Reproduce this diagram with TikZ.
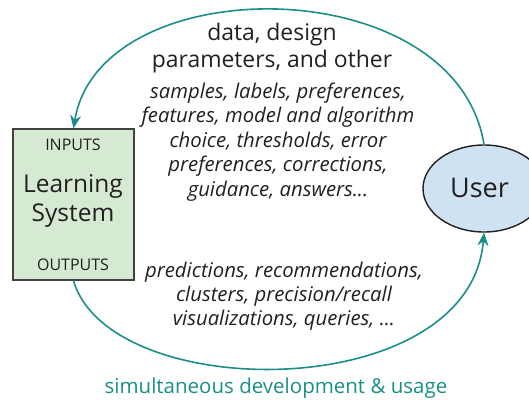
\documentclass[tikz,border=0pt]{standalone}
\usepackage{fontspec}
\setmainfont{Open Sans}
\usetikzlibrary{arrows.meta,shapes.geometric}
\definecolor{teal1}{HTML}{1B8F87}
\definecolor{txt}{HTML}{231F20}
\definecolor{boxgreen}{HTML}{D6EAD3}
\definecolor{userblue}{HTML}{CFE2F3}
\tikzset{
  flow/.style={draw=teal1,line width=1.6pt,-{Stealth[length=13pt,width=11pt]}},
  lbl/.style={text=txt,align=center,inner sep=0pt},
}
\begin{document}
\begin{tikzpicture}[x=1pt,y=1pt]
\useasboundingbox (0,0) rectangle (529,400);
\clip (0,0) rectangle (529,400);
\node[draw=txt!85,line width=1.4pt,fill=boxgreen,minimum width=121pt,minimum height=151pt,inner sep=0pt] (ls) at (73.5,195.5) {};
\node[lbl,font=\fontsize{16}{16}\selectfont] (inp) at (73,255) {INPUTS};
\node[lbl,font=\fontsize{24.5}{29}\selectfont] (lstxt) at (73,199) {Learning\\System};
\node[lbl,font=\fontsize{16}{16}\selectfont] (outp) at (73,135) {OUTPUTS};
\node[draw=txt,line width=1.4pt,fill=userblue,ellipse,minimum width=122pt,minimum height=87pt,inner sep=0pt] (user) at (484,211.5) {};
\node[lbl,font=\fontsize{27}{27}\selectfont] (usertxt) at (479.5,212) {User};
\node[lbl,font=\fontsize{22.9}{27}\selectfont] (top) at (272,351.5) {data, design\\parameters, and other};
\node[lbl,font=\itshape\fontsize{20.3}{24.5}\selectfont] (ins) at (278,258) {samples, labels, preferences,\\features, model and algorithm\\choice, thresholds, error\\preferences, corrections,\\guidance, answers...};
\node[lbl,font=\itshape\fontsize{20.3}{24}\selectfont] (outs) at (284,104) {predictions, recommendations,\\clusters, precision/recall\\visualizations, queries, ...};
\node[lbl,text=teal1,font=\fontsize{20.5}{20.5}\selectfont] (cap) at (276,12) {simultaneous development \& usage};
\draw[flow] (user.north) .. controls (455,432) and (100,432) .. (ls.north);
\draw[flow] (ls.south) .. controls (110,-5) and (470,-5) .. (user.south);
\end{tikzpicture}
\end{document}
